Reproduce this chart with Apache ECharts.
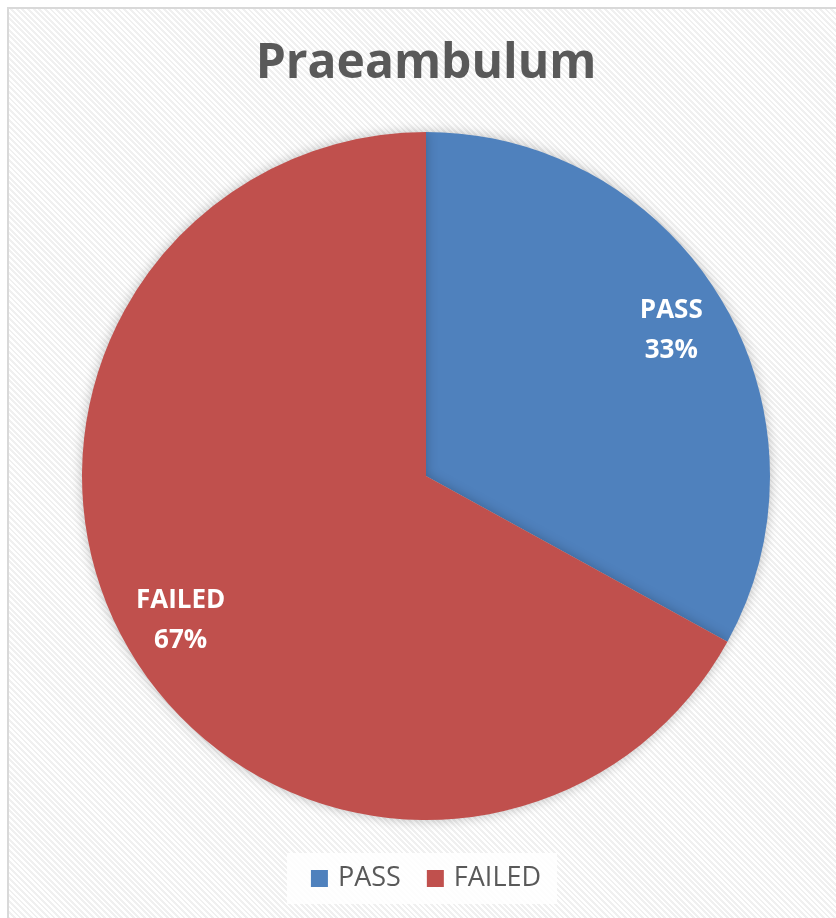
<!DOCTYPE html>
<html>
<head>
<meta charset="utf-8" />
<script src="https://cdn.jsdelivr.net/npm/echarts@6/dist/echarts.min.js"></script>
<style>
  html, body { margin: 0; padding: 0; background: #ffffff; overflow: hidden; }
  .frame {
    position: absolute;
    left: 7px;
    top: 7px;
    width: 850px;
    height: 930px;
    border: 2px solid #d9d9d9;
    background: repeating-linear-gradient(45deg, #ffffff 0px, #ffffff 2px, #f0f0f0 2px, #f0f0f0 4px);
  }
  #chart {
    position: absolute;
    left: 8px;
    top: 0;
    width: 836px;
    height: 918px;
  }
</style>
</head>
<body>
<div class="frame"></div>
<div id="chart"></div>
<script>
// 数据
const titleText = "Praeambulum";
const categories = ["PASS", "FAILED"];
const values = [33, 67];
const colors = ["#4F81BD", "#C0504D"];

const pieData = categories.map((name, i) => ({
  name: name,
  value: values[i],
  itemStyle: { color: colors[i] },
}));

const myChart = echarts.init(document.getElementById("chart"));

const option = {
  backgroundColor: "transparent",
  title: {
    text: titleText,
    left: "center",
    top: 35,
    textStyle: {
      fontFamily: "Open Sans",
      fontWeight: "bold",
      fontSize: 48,
      color: "#595959",
    },
  },
  legend: {
    data: categories,
    bottom: 14,
    left: "center",
    icon: "rect",
    itemWidth: 17,
    itemHeight: 17,
    itemGap: 26,
    padding: [12, 16, 12, 24],
    backgroundColor: "rgba(255,255,255,0.85)",
    textStyle: {
      fontFamily: "Open Sans",
      fontSize: 27,
      color: "#595959",
      padding: [0, 0, 0, 5],
    },
  },
  series: [
    {
      // 主饼图
      name: "main",
      type: "pie",
      center: [418, 476],
      radius: [0, 344],
      startAngle: 90,
      clockwise: true,
      percentPrecision: 0,
      label: { show: false },
      labelLine: { show: false },
      itemStyle: {
        shadowBlur: 12,
        shadowColor: "rgba(0,0,0,0.25)",
      },
      emphasis: { disabled: true },
      data: pieData,
    },
    {
      // 透明环，仅用于放置标签
      name: "labels",
      type: "pie",
      center: [418, 476],
      radius: [220, 344],
      startAngle: 90,
      clockwise: true,
      percentPrecision: 0,
      silent: true,
      legendHoverLink: false,
      itemStyle: { color: "transparent" },
      label: {
        show: true,
        position: "inside",
        formatter: "{b}\n{d}%",
        fontFamily: "Open Sans",
        fontWeight: "bold",
        fontSize: 26,
        lineHeight: 40,
        color: "#ffffff",
      },
      labelLine: { show: false },
      emphasis: { disabled: true },
      data: categories.map((name, i) => ({ name: name, value: values[i] })),
    },
  ],
};

myChart.setOption(option, true);
</script>
</body>
</html>
